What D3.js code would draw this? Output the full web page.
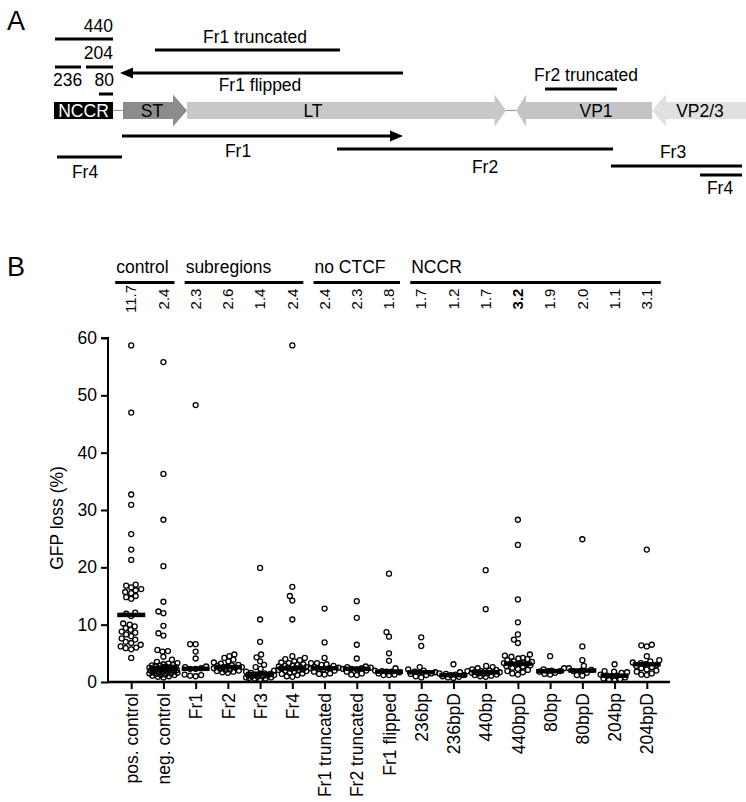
<!DOCTYPE html>
<html><head><meta charset="utf-8">
<script src="https://cdn.jsdelivr.net/npm/d3@7"></script>
<style>body{margin:0;background:#fff}svg{display:block}text{font-family:"Liberation Sans",Arial,Helvetica,sans-serif;fill:#000}</style>
</head><body><svg id="c" width="746" height="802"></svg>
<script>
// ---------- DATA ----------
const categories = ["pos. control","neg. control","Fr1","Fr2","Fr3","Fr4","Fr1 truncated","Fr2 truncated","Fr1 flipped","236bp","236bpD","440bp","440bpD","80bp","80bpD","204bp","204bpD"];
const medianLabels = ["11.7","2.4","2.3","2.6","1.4","2.4","2.4","2.3","1.8","1.7","1.2","1.7","3.2","1.9","2.0","1.1","3.1"];
const boldMedians = ["440bpD"];
const groupNames = ["control","subregions","no CTCF","NCCR"];
const groupFirst = ["pos. control","Fr1","Fr1 truncated","236bp"];
const groupLast  = ["neg. control","Fr4","Fr1 flipped","204bpD"];
const yTicks = [0,10,20,30,40,50,60];

const posControl = [58.7,47.0,32.7,30.9,25.8,23.1,21.3,17.0,16.8,16.5,16.2,16.0,15.7,15.5,15.0,14.8,14.5,12.1,11.9,11.5,10.2,10.0,9.7,9.4,9.1,8.8,8.6,8.3,8.0,7.6,7.4,7.0,6.8,6.5,6.2,5.9,5.7,6.0,4.2];
const negControl = [55.8,36.3,28.3,20.2,14.0,12.3,12.0,9.8,8.5,8.1,5.6,5.4,5.3,4.4,3.9,3.5,3.3,3.1,3.0,2.9,2.8,2.7,2.6,2.5,2.5,2.4,2.4,2.3,2.3,2.2,2.2,2.1,2.0,2.0,1.9,1.8,1.8,1.7,1.6,1.5,1.4,1.3,1.2,1.1,1.0,0.9,2.6,2.1,1.7,1.5,2.9,3.2,1.2,0.8];
const fr1 = [48.3,6.6,6.6,5.3,4.1,2.7,2.6,2.4,2.3,2.3,1.3,1.1,1.0,1.2];
const fr2 = [4.8,4.5,4.2,3.9,3.6,3.4,3.2,3.0,2.9,2.8,2.7,2.6,2.6,2.5,2.4,2.3,2.2,2.1,2.0,1.9,1.8,1.7,1.6];
const fr3 = [19.9,10.9,7.0,4.8,4.3,3.6,3.0,2.6,2.3,2.0,1.8,1.6,1.5,1.4,1.4,1.3,1.2,1.1,1.0,0.9,0.8,0.7,0.6,0.5,1.0,1.2,0.8,0.6];
const fr4 = [58.7,16.6,15.0,14.2,10.9,4.5,4.2,4.0,3.8,3.6,3.4,3.1,2.9,2.8,2.7,2.6,2.5,2.4,2.4,2.3,2.2,2.1,2.0,1.9,1.8,1.6,1.4,1.2,1.0,2.6,3.0,1.5,2.1,3.3,0.9];
const fr1Truncated = [12.8,6.9,4.2,3.3,3.3,3.1,3.0,2.8,2.6,2.5,2.4,2.4,2.3,2.2,2.0,1.8,1.5,1.3,1.4];
const fr2Truncated = [14.1,11.2,6.5,4.1,2.7,2.6,2.5,2.4,2.3,2.3,2.2,2.0,1.8,1.5,1.3,1.2];
const fr1Flipped = [18.9,8.7,7.9,5.0,3.7,2.4,2.0,1.9,1.8,1.8,1.7,1.5,1.3,1.2,1.2];
const bp236 = [7.8,6.3,2.6,2.2,2.0,1.8,1.7,1.6,1.5,1.2,1.0,0.8,1.4];
const bp236D = [3.1,1.9,1.7,1.5,1.3,1.2,1.2,1.0,0.9,0.8,1.4,0.7];
const bp440 = [19.5,12.7,2.8,2.6,2.4,2.2,2.0,1.9,1.8,1.7,1.7,1.6,1.5,1.4,1.3,1.2,1.1,1.0,2.1,1.9,1.5,0.9];
const bp440D = [28.3,23.9,14.4,10.4,8.3,7.4,6.8,4.8,4.6,4.4,4.2,4.0,3.8,3.6,3.5,3.3,3.2,3.2,3.1,3.0,2.9,2.7,2.5,2.3,2.1,1.9,1.7,1.5,1.3,3.4,2.8,4.1];
const bp80 = [4.5,2.4,2.2,2.0,1.9,1.9,1.8,1.6,1.4,1.3];
const bp80D = [24.9,6.2,3.8,2.8,2.4,2.1,2.0,1.9,1.6,1.2,1.1];
const bp204 = [3.1,1.9,1.8,1.7,1.6,1.3,1.1,1.1,1.0,0.8,0.6,0.4,0.3,0.5];
const bp204D = [23.1,6.5,6.4,6.2,4.5,3.8,3.6,3.4,3.3,3.1,3.0,2.8,2.6,2.2,2.0,1.8,1.5,1.3,1.2,2.4];
const seriesValues = [posControl,negControl,fr1,fr2,fr3,fr4,fr1Truncated,fr2Truncated,fr1Flipped,bp236,bp236D,bp440,bp440D,bp80,bp80D,bp204,bp204D];

// Panel A map (positions in map units along the genome schematic)
const mapFragmentNames = ["440","204","236","80","Fr1 truncated","Fr1 flipped","Fr2 truncated","Fr1","Fr2","Fr3","Fr4","Fr4"];
const mapFragmentStart = [55,86,55,99,155,403,545,122,337,611,57,700];
const mapFragmentEnd   = [113,113,81,113,340,120,617,403,613,742,122,742];
const mapFragmentArrow = [false,false,false,false,false,true,false,true,false,false,false,false];
const geneNames = ["ST","LT","VP1","VP2/3"];
const geneStart = [123,187,652,746];
const geneEnd   = [187,506,516,652];
const nccrRegion = [54,113];

// ---------- LAYOUT ----------
const svg = d3.select("#c");
svg.append("rect").attr("width",746).attr("height",802).attr("fill","#fff");
const FS = 17.5;

svg.append("text").attr("x",7).attr("y",30).attr("font-size",27).text("A");
svg.append("text").attr("x",7).attr("y",276).attr("font-size",27).text("B");

// ---- Panel A ----
const mx = d3.scaleLinear().domain([0,746]).range([0,746]);
const fragLayout = [
  {y:39, lx:113, ly:32, anchor:"end"},
  {y:67, lx:113, ly:59, anchor:"end"},
  {y:67, lx:53, ly:86, anchor:"start"},
  {y:94, lx:114, ly:86, anchor:"end"},
  {y:50, lx:255, ly:43, anchor:"middle"},
  {y:73, lx:260, ly:91, anchor:"middle"},
  {y:89, lx:586, ly:81, anchor:"middle"},
  {y:136, lx:238, ly:157, anchor:"middle"},
  {y:149, lx:485, ly:173, anchor:"middle"},
  {y:166, lx:673, ly:158, anchor:"middle"},
  {y:157, lx:85, ly:178, anchor:"middle"},
  {y:175, lx:720, ly:194, anchor:"middle"}
];
const gA = svg.append("g");
mapFragmentNames.forEach((name,i)=>{
  const L = fragLayout[i];
  const s = mx(mapFragmentStart[i]), e = mx(mapFragmentEnd[i]);
  if (mapFragmentArrow[i]) {
    const dir = e > s ? 1 : -1, head = 13;
    gA.append("line").attr("x1",s).attr("x2",e - dir*head).attr("y1",L.y).attr("y2",L.y).attr("stroke","#000").attr("stroke-width",3);
    gA.append("path").attr("d",`M${e},${L.y} L${e-dir*head},${L.y-5.5} L${e-dir*head},${L.y+5.5} Z`).attr("fill","#000");
  } else {
    gA.append("line").attr("x1",s).attr("x2",e).attr("y1",L.y).attr("y2",L.y).attr("stroke","#000").attr("stroke-width",3);
  }
  gA.append("text").attr("x",L.lx).attr("y",L.ly).attr("text-anchor",L.anchor).attr("font-size",FS).text(name);
});
const gy = 110.5;
gA.append("line").attr("x1",mx(nccrRegion[1])).attr("x2",mx(geneStart[0])).attr("y1",gy).attr("y2",gy).attr("stroke","#999").attr("stroke-width",1.2);
gA.append("line").attr("x1",mx(geneEnd[1])).attr("x2",mx(geneEnd[2])).attr("y1",gy).attr("y2",gy).attr("stroke","#999").attr("stroke-width",1.2);
const geneFill = ["#8c8c8c","#c8c8c8","#c4c4c4","#e0e0e0"];
const geneHead = [14,11.5,10,14];
const geneLabelX = [152,313,596,700];
geneNames.forEach((name,i)=>{
  const s = mx(geneStart[i]), e = mx(geneEnd[i]);
  const dir = e > s ? 1 : -1, h = geneHead[i], b = e - dir*h;
  const d = `M${s},${gy-8.5} L${b},${gy-8.5} L${b},${gy-16} L${e},${gy} L${b},${gy+16} L${b},${gy+8.5} L${s},${gy+8.5} Z`;
  gA.append("path").attr("d",d).attr("fill",geneFill[i]);
});
geneNames.forEach((name,i)=>{
  gA.append("text").attr("x",geneLabelX[i]).attr("y",117).attr("text-anchor","middle").attr("font-size",FS).text(name);
});
gA.append("rect").attr("x",mx(nccrRegion[0])).attr("y",gy-8.5).attr("width",mx(nccrRegion[1])-mx(nccrRegion[0])).attr("height",17).attr("fill","#000");
gA.append("text").attr("x",(mx(nccrRegion[0])+mx(nccrRegion[1]))/2).attr("y",117).attr("text-anchor","middle").attr("font-size",FS).style("fill","#fff").text("NCCR");

// ---- Panel B ----
const x = d3.scalePoint().domain(categories).range([108,670]).padding(0.72);
const y = d3.scaleLinear().domain([0,60]).range([682,338]);
const gB = svg.append("g");

const yAxis = gB.append("g").attr("transform","translate(108,0)").call(d3.axisLeft(y).tickValues(yTicks).tickSize(7).tickPadding(4));
yAxis.select(".domain").attr("d",`M-7,${y(60)}H0V${y(0)}`).attr("stroke-width",2);
yAxis.selectAll(".tick line").attr("stroke-width",2);
yAxis.selectAll("text").attr("font-size",FS).style("font-family",'"Liberation Sans",Arial,sans-serif');
gB.append("text").attr("transform",`translate(63,518) rotate(-90)`).attr("text-anchor","middle").attr("font-size",FS).text("GFP loss (%)");

const xAxis = gB.append("g").attr("transform","translate(0,682)").call(d3.axisBottom(x).tickSize(7).tickPadding(4));
xAxis.select(".domain").attr("d","M108,0H670").attr("stroke-width",2.5);
xAxis.selectAll(".tick line").attr("stroke-width",2);
xAxis.selectAll("text").attr("font-size",FS).style("font-family",'"Liberation Sans",Arial,sans-serif')
  .attr("transform","rotate(-90)").attr("text-anchor","end").attr("x",-11).attr("y",0).attr("dy","0.35em");

groupNames.forEach((g,i)=>{
  const x0 = x(groupFirst[i]) - (i===0?16:11), x1 = x(groupLast[i]) + (i===3?14:11);
  gB.append("line").attr("x1",x0).attr("x2",x1).attr("y1",282.5).attr("y2",282.5).attr("stroke","#000").attr("stroke-width",3);
  gB.append("text").attr("x",x0+1).attr("y",273).attr("font-size",FS).text(g);
});
categories.forEach((c,i)=>{
  gB.append("text").attr("transform",`translate(${x(c)},299) rotate(-90)`).attr("text-anchor","middle").attr("dy","0.35em")
    .attr("font-size",15).attr("font-weight",boldMedians.includes(c)?"bold":"normal").text(medianLabels[i]);
});

const R = 2.5, MIND = 5.2, MAXW = 14;
function swarm(vals){
  const placed = [];
  const idx = vals.map((v,i)=>i).sort((a,b)=>vals[a]-vals[b]);
  const out = new Array(vals.length);
  for (const i of idx){
    const py = y(vals[i]);
    let chosen = null, bestOff = 0, bestD = -1;
    for (let k=0;k<=MAXW*4;k++){
      const off = (k%2===0?1:-1)*Math.ceil(k/2)*0.5;
      let md = Infinity;
      for (const p of placed){ const d = Math.hypot(p.dx-off,p.py-py); if(d<md) md=d; }
      if (md >= MIND){ chosen = off; break; }
      if (md > bestD){ bestD = md; bestOff = off; }
    }
    if (chosen===null) chosen = bestOff;
    placed.push({dx:chosen, py});
    out[i] = {dx:chosen, py};
  }
  return out;
}
categories.forEach((c,ci)=>{
  const vals = seriesValues[ci];
  const pos = swarm(vals);
  const g = gB.append("g");
  g.selectAll("circle").data(vals).join("circle")
    .attr("cx",(d,i)=>x(c)+pos[i].dx).attr("cy",(d,i)=>pos[i].py).attr("r",R)
    .attr("fill","none").attr("stroke","#000").attr("stroke-width",1.3);
  const m = +medianLabels[ci];
  g.append("rect").attr("x",x(c)-14).attr("y",y(m)-2.25).attr("width",28).attr("height",4.5).attr("fill","#000");
});
</script></body></html>
